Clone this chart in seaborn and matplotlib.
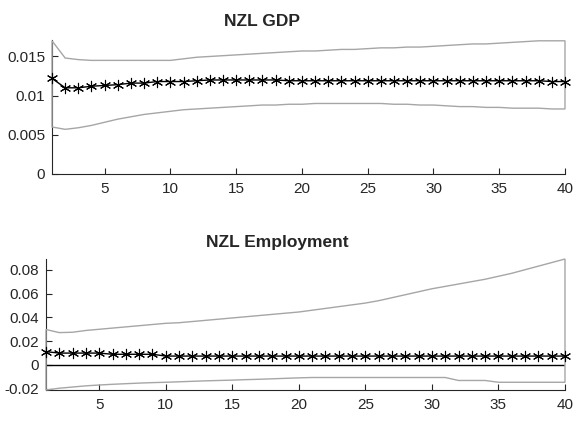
import numpy as np
import pandas as pd
import matplotlib
matplotlib.use('Agg')
import matplotlib.pyplot as plt
import seaborn as sns

horizon = np.arange(1, 41)

gdp_irf = [0.0122, 0.0110, 0.0110, 0.0112, 0.0113, 0.0114, 0.0116, 0.0116, 0.0118, 0.0118,
           0.0118, 0.0119, 0.0120, 0.0120, 0.0120, 0.0120, 0.0120, 0.0120, 0.0119, 0.0119,
           0.0119, 0.0119, 0.0119, 0.0119, 0.0119, 0.0119, 0.0119, 0.0119, 0.0119, 0.0119,
           0.0119, 0.0119, 0.0119, 0.0119, 0.0119, 0.0119, 0.0119, 0.0119, 0.0118, 0.0118]
gdp_upper = [0.0170, 0.0148, 0.0146, 0.0145, 0.0145, 0.0145, 0.0145, 0.0145, 0.0145, 0.0145,
             0.0147, 0.0149, 0.0150, 0.0151, 0.0152, 0.0153, 0.0154, 0.0155, 0.0156, 0.0157,
             0.0157, 0.0158, 0.0159, 0.0159, 0.0160, 0.0161, 0.0161, 0.0162, 0.0162, 0.0163,
             0.0164, 0.0165, 0.0166, 0.0166, 0.0167, 0.0168, 0.0169, 0.0170, 0.0170, 0.0170]
gdp_lower = [0.0060, 0.0057, 0.0059, 0.0062, 0.0066, 0.0070, 0.0073, 0.0076, 0.0078, 0.0080,
             0.0082, 0.0083, 0.0084, 0.0085, 0.0086, 0.0087, 0.0088, 0.0088, 0.0089, 0.0089,
             0.0090, 0.0090, 0.0090, 0.0090, 0.0090, 0.0090, 0.0089, 0.0089, 0.0088, 0.0088,
             0.0087, 0.0086, 0.0086, 0.0085, 0.0085, 0.0084, 0.0084, 0.0084, 0.0083, 0.0083]

emp_irf = [0.0112, 0.0100, 0.0100, 0.0100, 0.0100, 0.0090, 0.0090, 0.0090, 0.0090, 0.0075,
           0.0075, 0.0075, 0.0075, 0.0075, 0.0075, 0.0075, 0.0075, 0.0075, 0.0075, 0.0075,
           0.0075, 0.0075, 0.0075, 0.0075, 0.0075, 0.0075, 0.0075, 0.0075, 0.0075, 0.0075,
           0.0075, 0.0075, 0.0075, 0.0075, 0.0075, 0.0075, 0.0075, 0.0075, 0.0075, 0.0075]
emp_upper = [0.0298, 0.0272, 0.0275, 0.0290, 0.0300, 0.0310, 0.0320, 0.0330, 0.0340, 0.0350,
             0.0355, 0.0365, 0.0375, 0.0385, 0.0395, 0.0405, 0.0415, 0.0425, 0.0435, 0.0445,
             0.0460, 0.0475, 0.0490, 0.0505, 0.0520, 0.0540, 0.0565, 0.0590, 0.0615, 0.0640,
             0.0660, 0.0680, 0.0700, 0.0720, 0.0745, 0.0770, 0.0800, 0.0830, 0.0860, 0.0890]
emp_lower = [-0.0210, -0.0195, -0.0185, -0.0175, -0.0168, -0.0162, -0.0157, -0.0152, -0.0148, -0.0145,
             -0.0141, -0.0137, -0.0133, -0.0130, -0.0127, -0.0123, -0.0120, -0.0116, -0.0112, -0.0108,
             -0.0105, -0.0105, -0.0105, -0.0105, -0.0105, -0.0105, -0.0105, -0.0105, -0.0105, -0.0105,
             -0.0105, -0.0130, -0.0130, -0.0130, -0.0145, -0.0145, -0.0145, -0.0145, -0.0145, -0.0145]

panels = [
    ('NZL GDP', gdp_irf, gdp_upper, gdp_lower, (0, 0.0171), [0, 0.005, 0.01, 0.015], ['0', '0.005', '0.01', '0.015']),
    ('NZL Employment', emp_irf, emp_upper, emp_lower, (-0.021, 0.089),
     [-0.02, 0, 0.02, 0.04, 0.06, 0.08], ['-0.02', '0', '0.02', '0.04', '0.06', '0.08']),
]

sns.set_style('ticks')
plt.rcParams['font.family'] = ['Liberation Sans', 'DejaVu Sans']

fig = plt.figure(figsize=(5.74, 4.23), dpi=100)
positions = [[0.0906, 0.5887, 0.8937, 0.3167], [0.0801, 0.0780, 0.9042, 0.3097]]
title_x = [0.41, 0.446]
title_pad = [10, 9]

# asterisk marker like MATLAB '*'
star = (6, 2, 0)

for (title, irf, upper, lower, ylim, yticks, ylabels), pos, tx, tp in zip(panels, positions, title_x, title_pad):
    ax = fig.add_axes(pos)
    df = pd.DataFrame({'h': horizon, 'irf': irf})
    # confidence band drawn as a closed gray outline
    ax.fill(np.r_[horizon, horizon[::-1]], np.r_[upper, lower[::-1]],
            facecolor='none', edgecolor='#a6a6a6', linewidth=1.0, zorder=3, clip_on=False)
    if ylim[0] < 0:
        ax.axhline(0, color='black', linewidth=1.0, zorder=2)
    sns.lineplot(data=df, x='h', y='irf', ax=ax, color='black', linewidth=1.0,
                 zorder=4, clip_on=False)
    sns.scatterplot(data=df, x='h', y='irf', ax=ax, color='black', marker=star,
                    s=55, linewidth=0.8, edgecolor='black', zorder=5, clip_on=False)
    ax.set_xlim(1, 40)
    ax.set_ylim(*ylim)
    ax.set_xticks([5, 10, 15, 20, 25, 30, 35, 40])
    ax.set_yticks(yticks)
    ax.set_yticklabels(ylabels)
    ax.set_xlabel('')
    ax.set_ylabel('')
    ax.set_title(title, fontsize=12.5, fontweight='bold', pad=tp, x=tx)
    ax.tick_params(direction='in', length=4, width=0.8, labelsize=11, colors='#262626')
    ax.tick_params(axis='x', pad=6)
    ax.tick_params(axis='y', pad=5)
    for side in ['top', 'right']:
        ax.spines[side].set_visible(False)
    for side in ['left', 'bottom']:
        ax.spines[side].set_color('#262626')
        ax.spines[side].set_linewidth(0.8)

fig.savefig('out.png', dpi=100)
